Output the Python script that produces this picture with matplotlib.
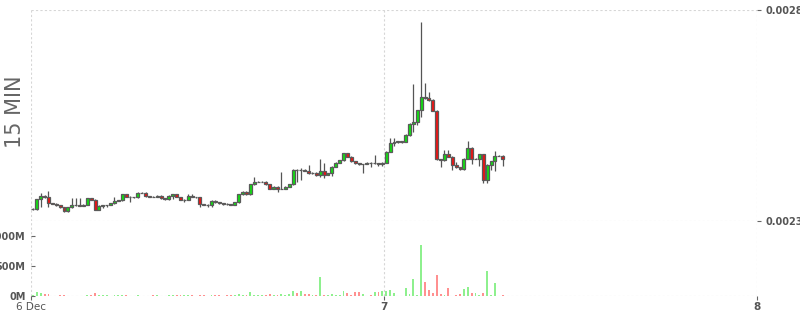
import numpy as np
import matplotlib.pyplot as plt

# 15 minute candles, 6 Dec 01:15 onwards; prices in millionths
opens = [2328, 2328, 2351, 2360, 2356, 2342, 2341, 2337, 2332, 2323,
         2332, 2339, 2338, 2336, 2339, 2354, 2350, 2326, 2336, 2337,
         2338, 2342, 2348, 2349, 2363, 2358, 2356, 2356, 2367, 2367,
         2359, 2358, 2357, 2360, 2354, 2351, 2360, 2363, 2357, 2350,
         2350, 2360, 2357, 2356, 2340, 2339, 2338, 2348, 2344, 2342,
         2341, 2340, 2339, 2344, 2363, 2369, 2363, 2387, 2393, 2393,
         2393, 2387, 2377, 2381, 2376, 2377, 2381, 2387, 2422, 2421,
         2422, 2419, 2413, 2414, 2409, 2419, 2409, 2413, 2429, 2438,
         2444, 2460, 2452, 2441, 2437, 2434, 2435, 2438, 2437, 2437,
         2434, 2438, 2464, 2486, 2487, 2489, 2488, 2504, 2531, 2535,
         2563, 2595, 2591, 2587, 2561, 2446, 2444, 2458, 2452, 2433,
         2427, 2423, 2448, 2474, 2447, 2448, 2458, 2396, 2433, 2441,
         2455, 2455]
closes = [2329, 2351, 2360, 2356, 2342, 2341, 2337, 2332, 2323, 2332,
          2339, 2338, 2336, 2339, 2354, 2350, 2326, 2336, 2337, 2338,
          2342, 2348, 2349, 2363, 2358, 2356, 2356, 2367, 2367, 2359,
          2358, 2357, 2360, 2354, 2351, 2360, 2363, 2357, 2350, 2350,
          2360, 2357, 2356, 2340, 2339, 2338, 2348, 2344, 2342, 2341,
          2340, 2339, 2344, 2363, 2369, 2363, 2387, 2393, 2393, 2393,
          2387, 2377, 2381, 2376, 2377, 2381, 2387, 2422, 2421, 2422,
          2419, 2413, 2414, 2409, 2419, 2409, 2413, 2429, 2438, 2444,
          2460, 2452, 2441, 2437, 2434, 2435, 2438, 2437, 2437, 2434,
          2438, 2464, 2486, 2487, 2489, 2488, 2504, 2531, 2535, 2563,
          2595, 2591, 2587, 2561, 2446, 2444, 2458, 2452, 2433, 2427,
          2423, 2448, 2474, 2447, 2448, 2458, 2396, 2433, 2441, 2455,
          2455, 2448]
highs = [2331, 2353, 2366, 2362, 2371, 2343, 2342, 2338, 2333, 2333,
         2354, 2354, 2354, 2340, 2355, 2355, 2351, 2337, 2338, 2339,
         2343, 2357, 2350, 2364, 2364, 2359, 2357, 2368, 2368, 2368,
         2360, 2359, 2361, 2361, 2355, 2361, 2364, 2364, 2358, 2351,
         2364, 2364, 2358, 2357, 2341, 2340, 2349, 2349, 2345, 2343,
         2342, 2341, 2345, 2364, 2370, 2370, 2388, 2405, 2394, 2394,
         2394, 2388, 2382, 2382, 2417, 2382, 2388, 2423, 2424, 2426,
         2423, 2433, 2415, 2415, 2446, 2438, 2414, 2430, 2439, 2445,
         2461, 2461, 2453, 2442, 2438, 2436, 2439, 2439, 2456, 2438,
         2439, 2465, 2496, 2496, 2490, 2490, 2505, 2532, 2625, 2564,
         2771, 2626, 2606, 2588, 2562, 2447, 2468, 2468, 2453, 2440,
         2428, 2449, 2489, 2475, 2449, 2459, 2459, 2434, 2442, 2466,
         2456, 2456]
lows = [2326, 2326, 2334, 2354, 2334, 2340, 2336, 2330, 2322, 2322,
        2330, 2336, 2335, 2335, 2338, 2349, 2325, 2325, 2330, 2332,
        2337, 2341, 2347, 2347, 2357, 2346, 2355, 2355, 2366, 2358,
        2357, 2356, 2356, 2352, 2350, 2350, 2353, 2356, 2349, 2344,
        2349, 2356, 2355, 2334, 2338, 2334, 2334, 2342, 2340, 2339,
        2339, 2338, 2338, 2343, 2362, 2362, 2362, 2386, 2392, 2392,
        2386, 2376, 2375, 2369, 2375, 2376, 2380, 2386, 2393, 2397,
        2418, 2412, 2412, 2407, 2405, 2403, 2408, 2406, 2428, 2437,
        2443, 2451, 2440, 2436, 2433, 2414, 2434, 2428, 2436, 2431,
        2430, 2437, 2463, 2478, 2486, 2484, 2487, 2501, 2510, 2527,
        2547, 2588, 2584, 2560, 2444, 2429, 2443, 2451, 2420, 2426,
        2422, 2422, 2447, 2434, 2446, 2430, 2390, 2390, 2420, 2419,
        2454, 2431]
# volume in millions
volumes = [10, 65, 45, 30, 40, 8, 5, 10, 12, 8,
           5, 5, 5, 8, 12, 20, 45, 25, 20, 10,
           8, 15, 10, 20, 15, 8, 5, 15, 5, 8,
           5, 10, 12, 8, 5, 15, 10, 12, 15, 10,
           20, 15, 8, 20, 10, 8, 20, 12, 10, 8,
           12, 10, 20, 35, 25, 20, 60, 20, 10, 15,
           25, 30, 20, 25, 30, 20, 35, 80, 50, 89,
           39, 39, 22, 22, 322, 22, 22, 39, 22, 22,
           89, 56, 22, 72, 72, 39, 6, 22, 72, 72,
           89, 89, 106, 56, 6, 6, 139, 39, 289, 22,
           856, 239, 106, 56, 356, 39, 22, 139, 5, 22,
           39, 122, 156, 56, 56, 22, 56, 422, 22, 222,
           5, 22]

day_ticks = [1.25, 24, 48]
day_labels = ["6 Dec", "7", "8"]

o = np.array(opens) / 1e6
c = np.array(closes) / 1e6
h = np.array(highs) / 1e6
l = np.array(lows) / 1e6
v = np.array(volumes)
t = 1.375 + 0.25 * np.arange(len(o))  # hours since 6 Dec 00:00
up = c >= o

grid_kw = dict(color="#d6d6d6", linestyle=(0, (2, 2)), linewidth=0.8)
txt = "#555555"

fig = plt.figure(figsize=(8, 3.15), dpi=100)
left, width = 31 / 800, 726 / 800
ax = fig.add_axes([left, 1 - 221 / 315, width, 211 / 315])
axv = fig.add_axes([left, 1 - 296 / 315, width, 75 / 315], sharex=ax)

# candles
ax.vlines(t, l, h, color="#555555", linewidth=0.9, zorder=2)
ax.bar(t, np.abs(c - o), bottom=np.minimum(o, c), width=0.19,
       color=np.where(up, "#11e011", "#ee1111"), edgecolor="#5a5a5a",
       linewidth=0.9, zorder=3)
ax.set_xlim(1.25, 48)
ax.set_ylim(0.0023, 0.0028)
ax.set_yticks([0.0023, 0.0028])
ax.set_yticklabels(["0.0023", "0.0028"])
ax.yaxis.tick_right()
ax.set_xticks(day_ticks)
ax.tick_params(axis="x", length=0, labelbottom=False)
ax.tick_params(axis="y", length=3, width=0.8, color="#666666", pad=3,
               labelsize=7, labelcolor=txt)
for lab in ax.get_yticklabels():
    lab.set_fontweight("bold")
ax.grid(True, **grid_kw)
for s in ax.spines.values():
    s.set_visible(False)

# volume
axv.bar(t, v, width=0.12, color=np.where(up, "#8ef08e", "#ff9090"), zorder=3)
axv.set_ylim(0, 1250)
axv.set_yticks([0, 500, 1000])
axv.set_yticklabels(["0M", "500M", "1000M"])
axv.set_xticks(day_ticks)
axv.set_xticklabels(day_labels)
axv.tick_params(axis="y", direction="in", length=3, width=0.8, color="#666666",
                pad=4, labelsize=7, labelcolor=txt)
axv.tick_params(axis="x", length=3, width=0.8, color="#666666", pad=1,
                labelsize=7.5, labelcolor=txt)
for lab in axv.get_yticklabels():
    lab.set_fontweight("bold")
for lab in axv.get_xticklabels()[1:]:
    lab.set_fontweight("bold")
axv.grid(True, axis="x", **grid_kw)
axv.axhline(0, zorder=1, **grid_kw)
for s in axv.spines.values():
    s.set_visible(False)

fig.text(0.019, 1 - 112 / 315, "15 MIN", rotation=90, ha="center", va="center",
         fontsize=15, color="#666666")

plt.savefig("out.png")
plt.close()
